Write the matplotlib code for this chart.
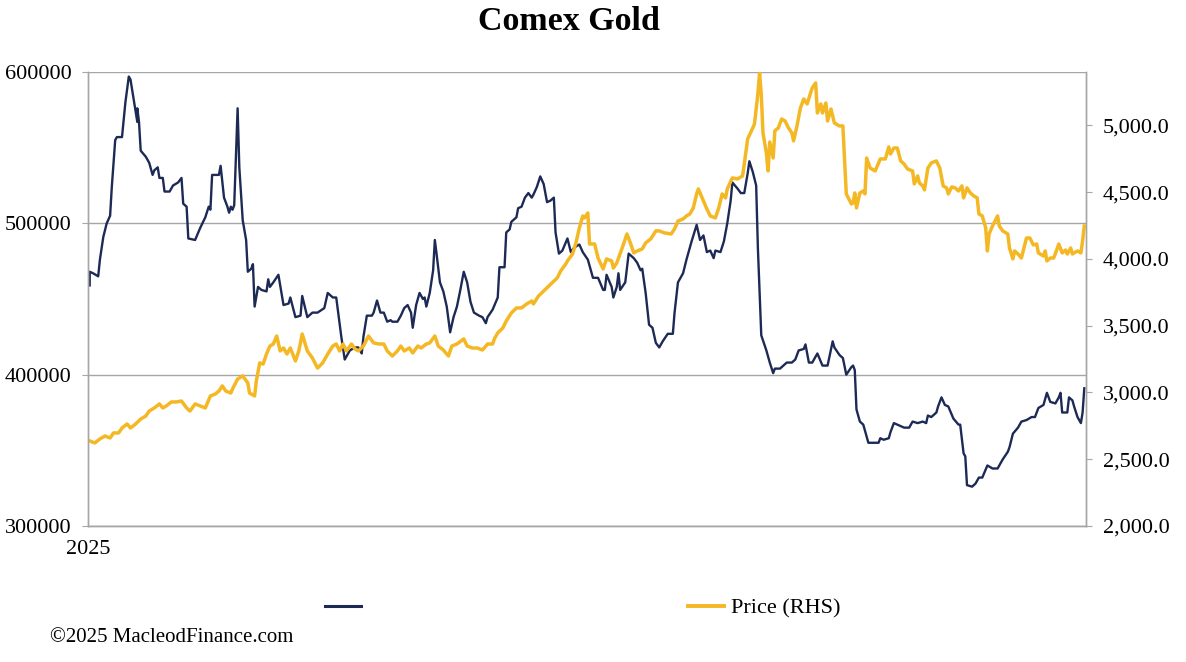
import matplotlib
matplotlib.use("Agg")
import matplotlib.pyplot as plt
from matplotlib.lines import Line2D
from matplotlib.ticker import FuncFormatter

# ---- data (days since 1 Jan 2025) ----
oi_days = [1, 1, 3, 6, 7, 9, 11, 13, 14, 16, 17, 20, 22, 24, 25, 27, 29, 29, 30, 31,
           34, 36, 38, 39, 41, 42, 44, 45, 48, 50, 53, 55, 56, 58, 59, 63, 66, 69, 71, 72,
           73, 75, 77, 78, 80, 82, 83, 84, 85, 86, 88, 89, 91, 93, 94, 96, 97, 98, 100, 102,
           105, 106, 107, 109, 112, 115, 118, 119, 122, 125, 126, 129, 132, 135, 139, 141, 144, 146, 148, 149,
           151, 152, 154, 157, 159, 161, 162, 164, 167, 168, 170, 172, 174, 176, 178, 179, 182, 184, 186, 188,
           190, 191, 193, 195, 197, 198, 199, 201, 203, 204, 205, 207, 209, 211, 213, 215, 217, 219, 221, 223,
           225, 227, 230, 232, 234, 235, 238, 241, 242, 245, 246, 248, 249, 252, 253, 255, 257, 259, 261, 262,
           264, 266, 268, 270, 272, 274, 275, 277, 279, 282, 284, 286, 289, 291, 294, 297, 300, 303, 304, 305,
           308, 309, 311, 312, 313, 316, 318, 321, 323, 325, 326, 328, 330, 332, 334, 336, 338, 341, 344, 345,
           347, 350, 352, 355, 358, 360, 362, 364, 366, 368, 369, 372, 374, 376, 378, 379, 382, 384, 386, 388,
           389, 391, 393, 394, 396, 399, 401, 403, 404, 407, 409, 411, 414, 416, 418, 421, 422, 424, 426, 429,
           432, 435, 438, 439, 442, 444, 446, 449, 450, 451, 452, 454, 456, 459, 462, 465, 466, 468, 471, 472,
           474, 476, 480, 483, 485, 488, 491, 493, 494, 496, 499, 500, 502, 504, 506, 509, 512, 513, 515, 516,
           517, 520, 522, 524, 526, 529, 532, 535, 538, 541, 542, 544, 547, 549, 552, 555, 557, 559, 562, 564,
           566, 569, 571, 572, 573, 576, 577, 579, 580, 582, 584, 585, 586]
oi_k = [459, 468, 467, 465, 476, 491, 500, 505, 524, 555, 557, 557, 580, 597, 595, 581, 567, 576, 567, 548,
        544, 540, 532, 535, 537, 530, 530, 521, 521, 525, 527, 530, 513, 511, 490, 489, 497, 504, 511, 509,
        532, 532, 532, 538, 517, 511, 507, 511, 509, 512, 576, 537, 502, 489, 468, 470, 473, 445, 458, 456,
        455, 463, 458, 461, 466, 446, 447, 451, 438, 439, 452, 438, 441, 441, 444, 454, 451, 451, 434, 425,
        410, 412, 416, 418, 418, 414, 425, 439, 439, 441, 449, 441, 441, 435, 436, 435, 435, 439, 444, 446,
        441, 431, 446, 454, 450, 451, 445, 454, 469, 489, 480, 461, 455, 445, 428, 438, 445, 456, 468, 461,
        448, 441, 439, 438, 434, 438, 443, 451, 471, 471, 494, 496, 501, 504, 510, 511, 517, 520, 517, 519,
        524, 531, 526, 514, 515, 517, 494, 480, 482, 490, 481, 484, 486, 481, 476, 464, 464, 456, 456, 466,
        458, 451, 458, 467, 456, 461, 480, 477, 474, 469, 470, 454, 433, 431, 421, 418, 422, 427, 427, 441,
        461, 467, 476, 488, 499, 489, 492, 481, 482, 477, 482, 481, 488, 500, 515, 527, 523, 520, 520, 533,
        541, 534, 525, 484, 426, 416, 408, 401, 404, 404, 406, 408, 408, 410, 416, 417, 420, 408, 408, 414,
        406, 406, 422, 418, 413, 411, 400, 405, 406, 403, 377, 369, 367, 355, 355, 355, 358, 357, 358, 362,
        368, 367, 365, 365, 369, 368, 369, 368, 373, 372, 375, 379, 385, 380, 379, 371, 367, 367, 348, 346,
        327, 326, 328, 332, 332, 340, 338, 338, 344, 349, 352, 361, 365, 369, 370, 372, 372, 378, 380, 388,
        382, 381, 385, 388, 375, 375, 385, 383, 379, 372, 368, 375, 391]

price_days = [1, 4, 7, 10, 13, 15, 18, 20, 23, 25, 28, 31, 34, 36, 39, 42, 44, 46, 49, 52,
              55, 58, 60, 63, 66, 69, 72, 75, 77, 79, 81, 84, 85, 88, 91, 94, 95, 98, 99, 101,
              103, 105, 107, 109, 111, 113, 115, 117, 119, 122, 124, 126, 129, 132, 135, 138, 141, 144, 146, 148,
              150, 152, 155, 157, 159, 162, 165, 168, 171, 174, 176, 179, 182, 184, 186, 189, 191, 194, 196, 199,
              201, 204, 206, 209, 212, 214, 217, 221, 223, 226, 229, 232, 235, 238, 239, 241, 244, 246, 249, 252,
              255, 258, 261, 262, 265, 268, 271, 274, 276, 278, 281, 282, 285, 287, 289, 291, 292, 294, 295, 298,
              300, 303, 305, 308, 309, 311, 314, 317, 319, 321, 323, 326, 328, 331, 334, 336, 339, 343, 345, 347,
              350, 352, 354, 356, 358, 359, 362, 364, 366, 369, 371, 373, 375, 376, 379, 382, 385, 386, 388, 391,
              392, 394, 395, 396, 397, 399, 400, 401, 403, 404, 406, 408, 410, 412, 414, 415, 417, 419, 421, 423,
              425, 426, 428, 429, 431, 432, 434, 435, 437, 439, 442, 444, 445, 446, 449, 450, 451, 452, 454, 456,
              457, 458, 460, 463, 466, 469, 471, 472, 474, 476, 478, 480, 482, 485, 486, 488, 489, 491, 492, 494,
              496, 499, 501, 503, 505, 506, 508, 510, 512, 514, 515, 517, 519, 521, 523, 524, 526, 528, 529, 530,
              532, 535, 536, 538, 541, 542, 544, 545, 547, 549, 552, 554, 556, 558, 559, 562, 563, 564, 566, 568,
              570, 571, 573, 575, 576, 578, 579, 582, 584, 585, 586]
price = [2637, 2622, 2652, 2674, 2659, 2697, 2697, 2734, 2764, 2734, 2764, 2801, 2824, 2861, 2884, 2914, 2884, 2899, 2929, 2929,
         2936, 2884, 2861, 2914, 2899, 2884, 2974, 2989, 3011, 3049, 3011, 2996, 3026, 3101, 3124, 3071, 2996, 2974, 3086, 3221,
         3213, 3288, 3348, 3363, 3423, 3311, 3333, 3288, 3333, 3236, 3311, 3438, 3311, 3258, 3183, 3221, 3288, 3348, 3363, 3311,
         3363, 3311, 3363, 3326, 3311, 3348, 3423, 3371, 3363, 3363, 3311, 3273, 3311, 3348, 3311, 3333, 3296, 3348, 3333, 3363,
         3371, 3423, 3348, 3318, 3273, 3348, 3363, 3401, 3348, 3333, 3333, 3318, 3363, 3363, 3401, 3446, 3483, 3535, 3595, 3633,
         3633, 3663, 3685, 3663, 3723, 3760, 3798, 3835, 3858, 3910, 3962, 3985, 4037, 4120, 4232, 4322, 4307, 4344, 4112, 4112,
         4007, 3925, 4000, 3985, 3932, 3970, 4075, 4187, 4120, 4045, 4060, 4075, 4120, 4150, 4210, 4210, 4195, 4187, 4225, 4284,
         4299, 4322, 4337, 4382, 4487, 4524, 4434, 4374, 4322, 4307, 4382, 4487, 4457, 4524, 4607, 4599, 4622, 4711, 4899, 4981,
         5011, 5236, 5393, 5236, 4944, 4794, 4659, 4876, 4756, 4959, 4981, 5048, 5033, 4981, 4944, 4884, 4996, 5130, 5198, 5161,
         5243, 5281, 5318, 5093, 5161, 5093, 5168, 5033, 5123, 5018, 4996, 4996, 4741, 4487, 4412, 4419, 4494, 4382, 4494, 4509,
         4487, 4756, 4681, 4659, 4749, 4749, 4839, 4786, 4831, 4831, 4734, 4711, 4674, 4659, 4562, 4622, 4569, 4547, 4517, 4681,
         4719, 4734, 4681, 4547, 4532, 4487, 4539, 4532, 4509, 4547, 4457, 4532, 4494, 4472, 4457, 4337, 4322, 4232, 4060, 4187,
         4247, 4322, 4247, 4210, 4187, 4082, 4000, 4060, 4037, 4007, 4157, 4157, 4105, 4112, 4045, 4022, 4060, 3985, 4007, 4007,
         4075, 4112, 4045, 4067, 4037, 4082, 4037, 4060, 4045, 4135, 4247]

left_ticks = [300000, 400000, 500000, 600000]
right_ticks = [2000, 2500, 3000, 3500, 4000, 4500, 5000]
x_tick_labels = ["2025"]

title = "Comex Gold"
legend_labels = ["", "Price (RHS)"]
credit = "\u00a92025 MacleodFinance.com"

NAVY = "#1d2a55"
GOLD = "#f4b824"
GRID = "#a6a6a6"

plt.rcParams['font.family'] = ['Liberation Serif', 'DejaVu Serif']

fig = plt.figure(figsize=(11.86, 6.62), dpi=100)
ax = fig.add_axes([88/1186, 1-526/662, (1086-88)/1186, (526-72)/662])
ax2 = ax.twinx()

oi = [v * 1000 for v in oi_k]
ax.plot(oi_days, oi, color=NAVY, lw=1.7, solid_joinstyle='round')
ax2.plot(price_days, price, color=GOLD, lw=2.5, solid_joinstyle='round')

ax.set_xlim(0, 587)
ax.set_ylim(300000, 600000)
ax.set_yticks(left_ticks)
ax.yaxis.set_major_formatter(FuncFormatter(lambda v, p: f"{int(v)}"))
ax2.set_ylim(2000, 5400)
ax2.set_yticks(right_ticks)
ax2.yaxis.set_major_formatter(FuncFormatter(lambda v, p: f"{v:,.1f}"))

ax.set_xticks([0])
ax.set_xticklabels(x_tick_labels)

ax.grid(axis='y', color=GRID, lw=1.0)
ax.set_axisbelow(True)

for a in (ax, ax2):
    for s in a.spines.values():
        s.set_color(GRID)
        s.set_linewidth(1.0)
    a.spines['top'].set_visible(False)

ax.tick_params(axis='y', length=4, color=GRID, labelsize=16, pad=8, labelcolor='black')
ax.tick_params(axis='x', length=0, labelsize=16, pad=10)
ax2.tick_params(axis='y', length=4, color=GRID, labelsize=16, pad=8, labelcolor='black')

fig.text(569/1186, 1-22/662, title, ha='center', va='center', fontsize=24.5, fontweight='bold')

handles = [Line2D([], [], color=NAVY, lw=2.2), Line2D([], [], color=GOLD, lw=2.8)]
fig.legend(handles, legend_labels, loc='center left', bbox_to_anchor=(325/1186, 1-608/662),
           ncol=2, frameon=False, fontsize=16, handlelength=1.6, handletextpad=0.3,
           columnspacing=14.45, borderaxespad=0, borderpad=0)

fig.text(50/1186, 1-637/662, credit, ha='left', va='center', fontsize=15)

fig.savefig("out.png", dpi=100)
